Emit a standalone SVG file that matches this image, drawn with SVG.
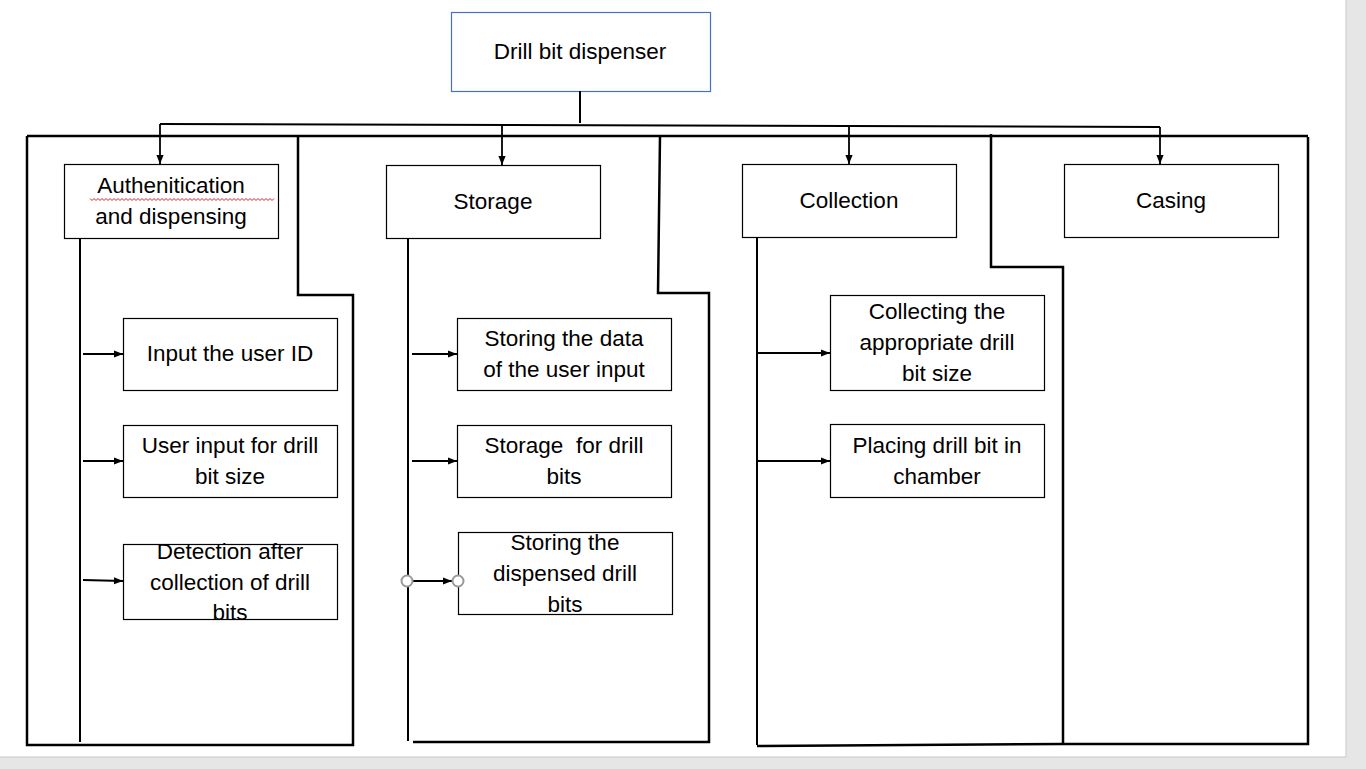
<svg xmlns="http://www.w3.org/2000/svg" width="1366" height="769" viewBox="0 0 1366 769">
<style>
.box{fill:#fff;stroke:#000;stroke-width:1.2}
.t{font-family:"Liberation Sans",Arial,sans-serif;font-size:22.5px;fill:#000;text-anchor:middle}
.frame{fill:none;stroke:#000;stroke-width:2.5;stroke-linejoin:miter}
.br{fill:none;stroke:#000;stroke-width:2}
.ar{fill:none;stroke:#000;stroke-width:1.8;marker-end:url(#ah)}
</style>
<defs>
<marker id="ah" viewBox="0 0 10 10" refX="10" refY="5" markerWidth="10" markerHeight="9" markerUnits="userSpaceOnUse" orient="auto">
<path d="M0,1 L10,5 L0,9 Z" fill="#000"/>
</marker>
</defs>
<rect x="0" y="0" width="1366" height="769" fill="#fff"/>
<rect x="1346" y="0" width="20" height="769" fill="#e6e6e6"/>
<rect x="0" y="757" width="1366" height="12" fill="#e6e6e6"/>
<path d="M0,757 H1346 V0" fill="none" stroke="#c8c8c8" stroke-width="1"/>

<g id="root">
<rect x="451.5" y="12.5" width="259" height="79" fill="#fff" stroke="#4472c4" stroke-width="1.2"/>
<text class="t" x="580" y="59">Drill bit dispenser</text>
</g>

<g id="auth">
<rect class="box" x="64.5" y="164.5" width="214" height="74"/>
<text class="t" x="171" y="193">Authenitication</text>
<path d="M90,198.5 l2,2 l2,-2 l2,2 l2,-2 l2,2 l2,-2 l2,2 l2,-2 l2,2 l2,-2 l2,2 l2,-2 l2,2 l2,-2 l2,2 l2,-2 l2,2 l2,-2 l2,2 l2,-2 l2,2 l2,-2 l2,2 l2,-2 l2,2 l2,-2 l2,2 l2,-2 l2,2 l2,-2 l2,2 l2,-2 l2,2 l2,-2 l2,2 l2,-2 l2,2 l2,-2 l2,2 l2,-2 l2,2 l2,-2 l2,2 l2,-2 l2,2 l2,-2 l2,2 l2,-2 l2,2 l2,-2 l2,2 l2,-2 l2,2 l2,-2 l2,2 l2,-2 l2,2 l2,-2 l2,2 l2,-2 l2,2 l2,-2 l2,2 l2,-2 l2,2 l2,-2 l2,2 l2,-2 l2,2 l2,-2 l2,2 l2,-2 l2,2 l2,-2 l2,2 l2,-2 l2,2 l2,-2 l2,2 l2,-2 l2,2 l2,-2 l2,2 l2,-2 l2,2 l2,-2 l2,2 l2,-2 l2,2 l2,-2 l2,2 l2,-2" fill="none" stroke="#e02020" stroke-width="1"/>
<text class="t" x="171" y="224">and dispensing</text>
</g>

<g id="storage">
<rect class="box" x="386.5" y="165.5" width="214" height="73"/>
<text class="t" x="493" y="209">Storage</text>
</g>

<g id="collection">
<rect class="box" x="742.5" y="164.5" width="214" height="73"/>
<text class="t" x="849" y="208">Collection</text>
</g>

<g id="casing">
<rect class="box" x="1064.5" y="164.5" width="214" height="73"/>
<text class="t" x="1171" y="208">Casing</text>
</g>

<g id="input-id">
<rect class="box" x="123.5" y="318.5" width="214" height="72"/>
<text class="t" x="230" y="361">Input the user ID</text>
</g>

<g id="input-size">
<rect class="box" x="123.5" y="425.5" width="214" height="72"/>
<text class="t" x="230" y="453">User input for drill</text>
<text class="t" x="230" y="484">bit size</text>
</g>

<g id="detection">
<rect class="box" x="123.5" y="544.5" width="214" height="75"/>
<text class="t" x="230" y="559">Detection after</text>
<text class="t" x="230" y="590">collection of drill</text>
<text class="t" x="230" y="620">bits</text>
</g>

<g id="store-data">
<rect class="box" x="457.5" y="318.5" width="214" height="72"/>
<text class="t" x="564" y="346">Storing the data</text>
<text class="t" x="564" y="377">of the user input</text>
</g>

<g id="store-bits">
<rect class="box" x="457.5" y="425.5" width="214" height="72"/>
<text class="t" x="564" y="453" xml:space="preserve">Storage  for drill</text>
<text class="t" x="564" y="484">bits</text>
</g>

<g id="store-dispensed">
<rect class="box" x="458.5" y="532.5" width="214" height="82"/>
<text class="t" x="565" y="550">Storing the</text>
<text class="t" x="565" y="581">dispensed drill</text>
<text class="t" x="565" y="612">bits</text>
</g>

<g id="collect-size">
<rect class="box" x="830.5" y="295.5" width="214" height="95"/>
<text class="t" x="937" y="319">Collecting the</text>
<text class="t" x="937" y="350">appropriate drill</text>
<text class="t" x="937" y="381">bit size</text>
</g>

<g id="placing">
<rect class="box" x="830.5" y="424.5" width="214" height="73"/>
<text class="t" x="937" y="453">Placing drill bit in</text>
<text class="t" x="937" y="484">chamber</text>
</g>

<g id="connectors">
<path class="br" d="M580,91 V123"/>
<path class="br" d="M160,124 L1160,127"/>
<path class="ar" d="M160,124 V164"/>
<path class="ar" d="M502,125 V165"/>
<path class="ar" d="M849,126 V164"/>
<path class="ar" d="M1160,127 V164"/>
<path class="frame" d="M27,136 H1308"/>
<path class="frame" d="M27,136 V745 H353 V295 H298 V136"/>
<path class="frame" d="M660,136 L658,293 H709 V742 H413"/>
<path class="frame" d="M991,134 V267 H1063 V745"/>
<path class="frame" d="M757,746 L1063,744 H1308 V137"/>
<path class="br" d="M80,238 V742"/>
<path class="br" d="M408,238 V741"/>
<path class="br" d="M757,237 V745"/>
<path class="ar" d="M83,354 H123"/>
<path class="ar" d="M83,461 H123"/>
<path class="ar" d="M83,580 L123,581"/>
<path class="ar" d="M412,354 H457"/>
<path class="ar" d="M412,461 H457"/>
<path class="ar" d="M412,581 H452"/>
<circle cx="407" cy="581" r="5.5" fill="#fff" stroke="#999" stroke-width="2"/>
<circle cx="458" cy="581" r="5.5" fill="#fff" stroke="#999" stroke-width="2"/>
<path class="ar" d="M757,353 H830"/>
<path class="ar" d="M757,461 H830"/>
</g>
</svg>
